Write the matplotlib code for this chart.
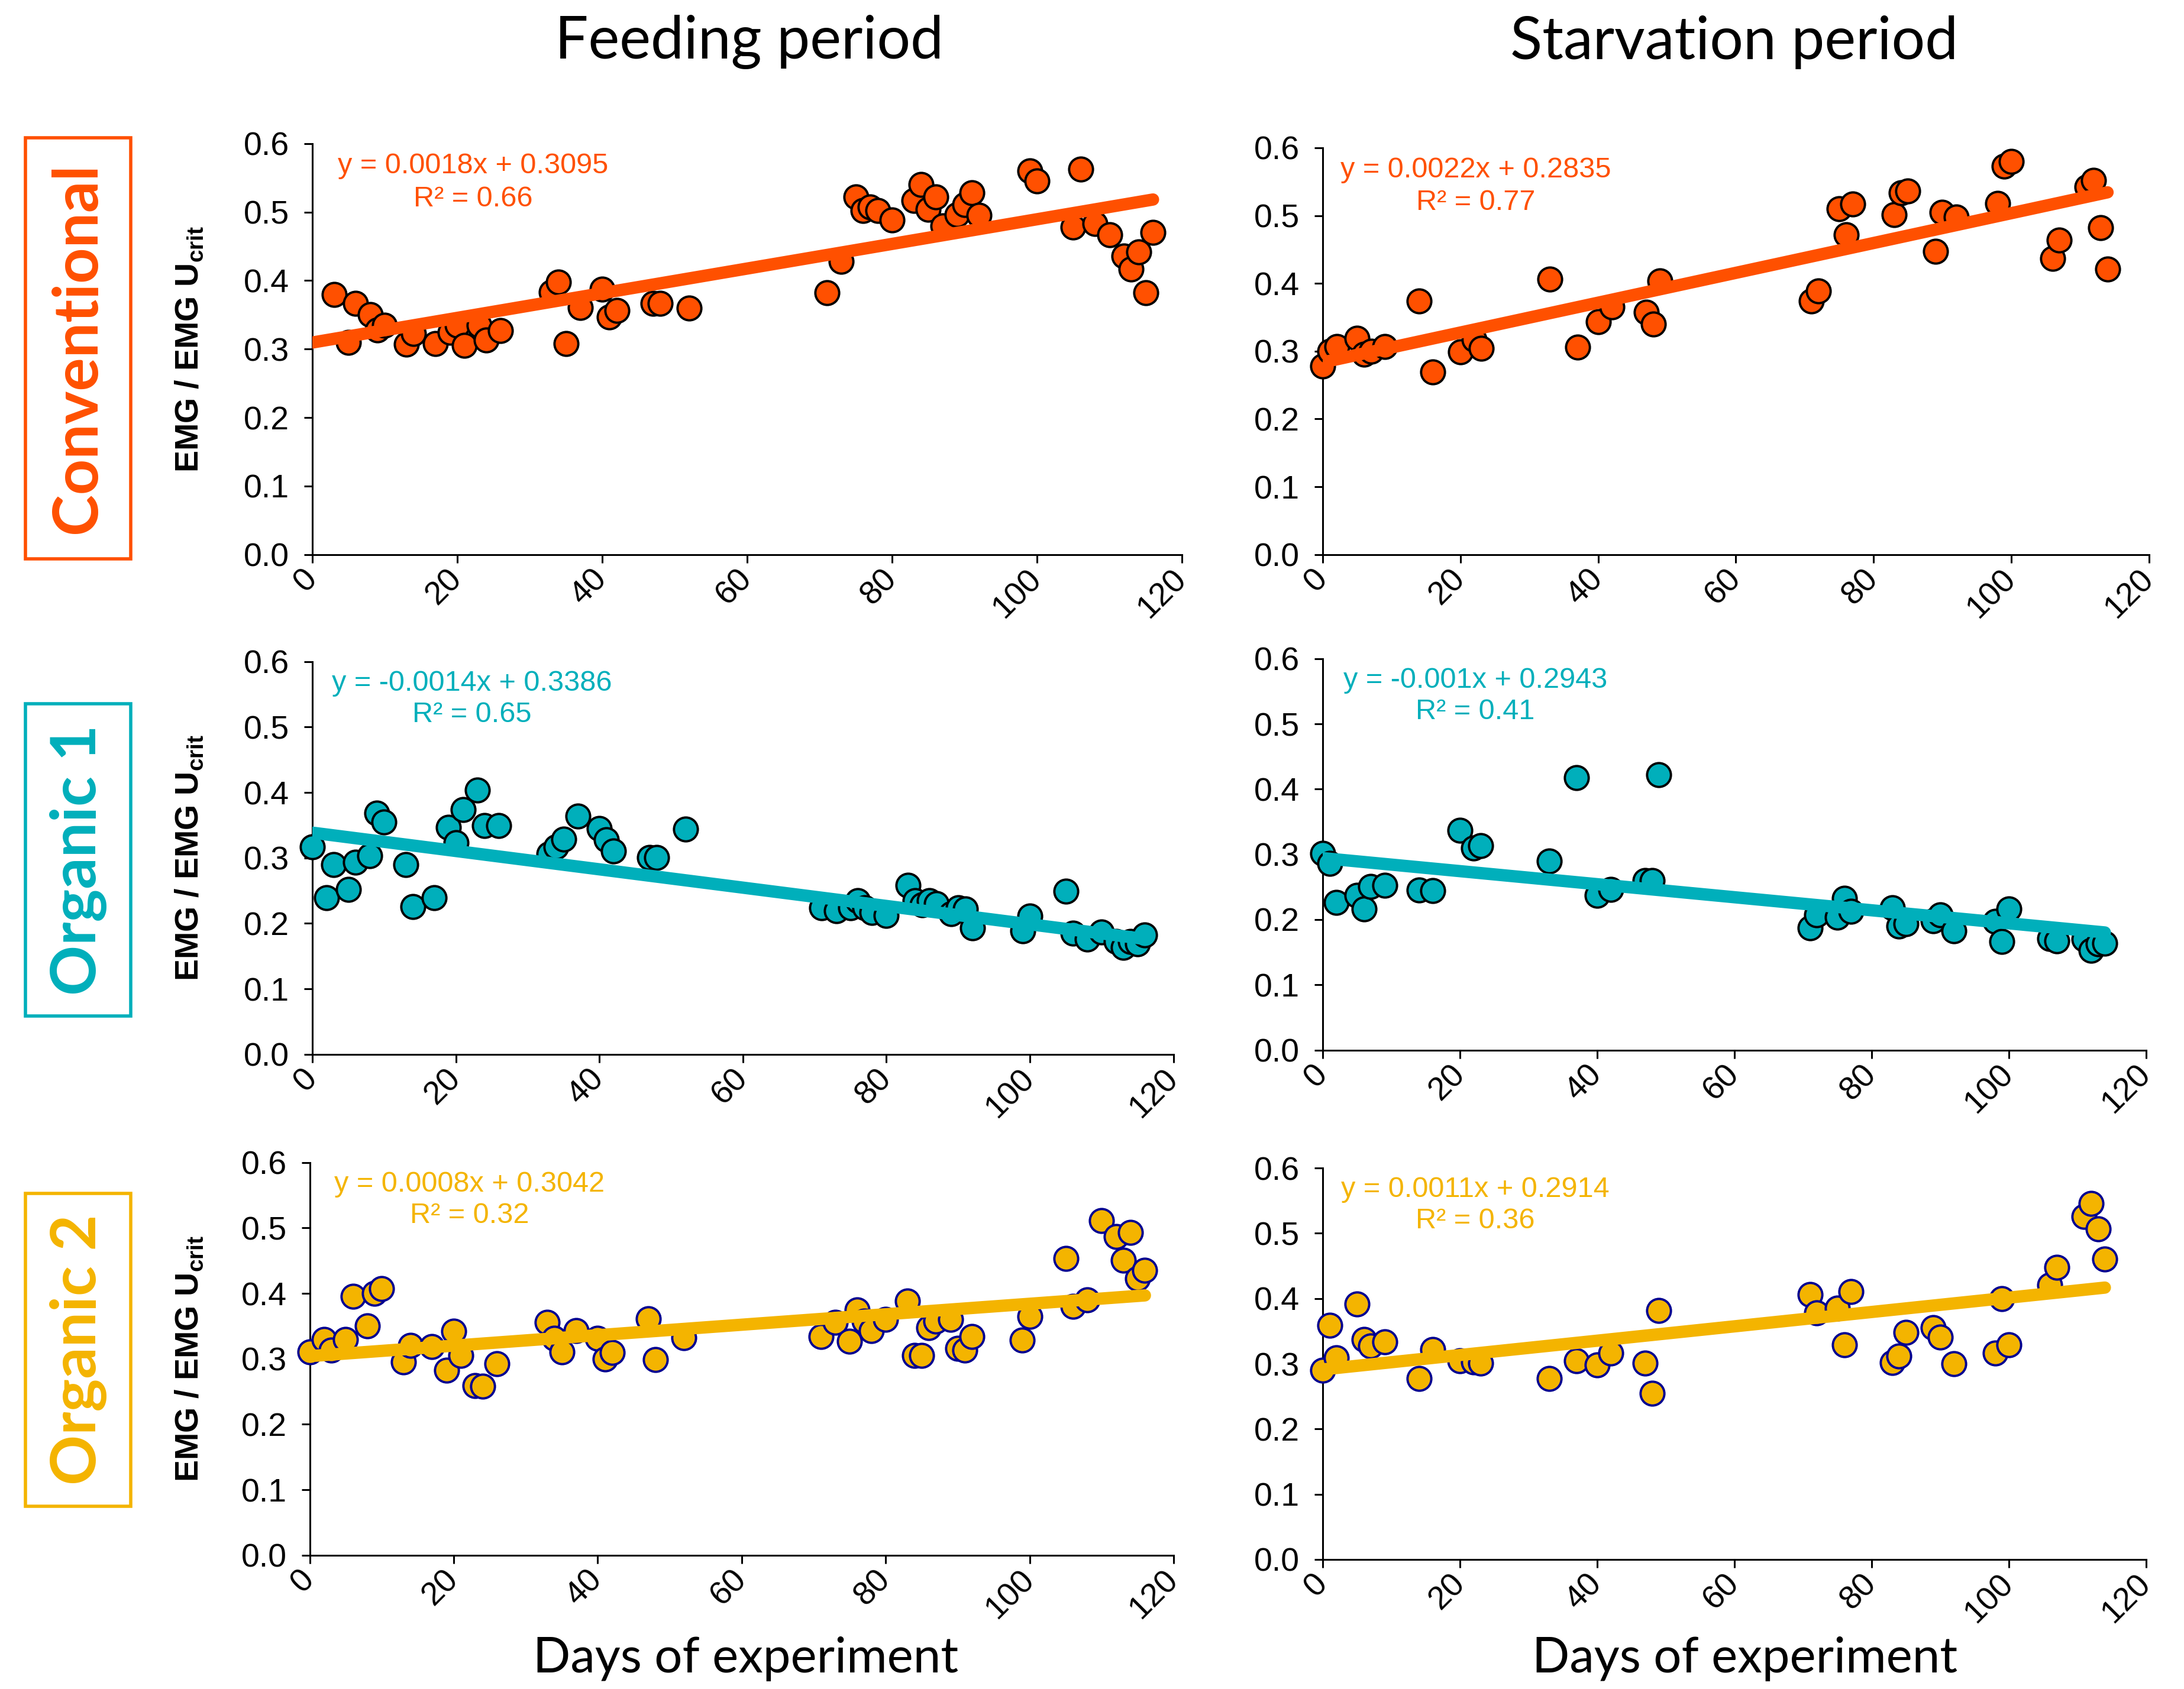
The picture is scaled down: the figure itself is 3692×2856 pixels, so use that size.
import matplotlib
matplotlib.use("Agg")
import matplotlib.pyplot as plt
from matplotlib.patches import Rectangle
import numpy as np

plt.rcParams['font.family'] = ['Liberation Sans', 'DejaVu Sans']
plt.rcParams['mathtext.fontset'] = 'custom'
plt.rcParams['mathtext.bf'] = 'Liberation Sans:bold'
plt.rcParams['mathtext.rm'] = 'Liberation Sans'

# ---------------- data ----------------
feed_x_a = [3,5,6,8,9,10,13,14,17,19,20,21,23,24,26,33,34,35,37,40,41,42,47,48,52,
            71,73,75,76,77,78,80,83,84,85,86,87,89,90,91,92,99,100,105,106,108,110,112,113,114,115,116]
conv_feed_y = [0.380,0.310,0.367,0.350,0.328,0.335,0.307,0.323,0.308,0.324,0.335,0.305,0.335,0.313,0.327,
               0.383,0.398,0.308,0.361,0.387,0.347,0.356,0.367,0.367,0.360,
               0.382,0.428,0.522,0.502,0.507,0.502,0.488,0.517,0.540,0.504,0.522,0.480,0.496,0.511,0.528,0.495,
               0.560,0.545,0.478,0.563,0.483,0.467,0.436,0.417,0.442,0.382,0.470]

feed_x_b = [0,2,3,5,6,8,9,10,13,14,17,19,20,21,23,24,26,33,34,35,37,40,41,42,47,48,52,
            71,73,75,76,77,78,80,83,84,85,86,87,89,90,91,92,99,100,105,106,108,110,112,113,114,115,116]
org1_feed_y = [0.317,0.239,0.290,0.252,0.293,0.303,0.368,0.355,0.290,0.226,0.239,0.347,0.323,0.374,0.404,0.349,0.349,
               0.306,0.317,0.329,0.364,0.345,0.328,0.311,0.301,0.301,0.344,
               0.224,0.219,0.224,0.235,0.224,0.217,0.212,0.258,0.235,0.228,0.235,0.230,0.215,0.224,0.222,0.193,
               0.189,0.211,0.249,0.185,0.176,0.187,0.172,0.163,0.172,0.169,0.182]
org2_feed_y = [0.311,0.330,0.313,0.330,0.396,0.350,0.400,0.407,0.295,0.321,0.319,0.283,0.342,0.305,0.259,0.258,0.293,
               0.356,0.331,0.311,0.343,0.331,0.300,0.310,0.361,0.299,0.332,
               0.334,0.356,0.327,0.375,0.358,0.343,0.360,0.388,0.305,0.305,0.348,0.358,0.360,0.316,0.313,0.334,
               0.329,0.365,0.453,0.380,0.390,0.511,0.487,0.451,0.493,0.423,0.435]

starv_x = [0,1,2,5,6,7,9,14,16,20,22,23,33,37,40,42,47,48,49,71,72,75,76,77,83,84,85,89,90,92,
           98,99,100,106,107,111,112,113,114]
conv_starv_y = [0.278,0.300,0.307,0.319,0.295,0.300,0.307,0.374,0.269,0.299,0.317,0.304,0.406,0.306,0.343,0.365,
                0.357,0.340,0.404,0.374,0.389,0.510,0.472,0.517,0.501,0.534,0.536,0.447,0.505,0.498,
                0.518,0.573,0.580,0.437,0.464,0.542,0.552,0.482,0.421]
org1_starv_y = [0.302,0.286,0.226,0.237,0.216,0.251,0.253,0.245,0.244,0.337,0.310,0.313,0.290,0.418,0.237,0.246,
                0.260,0.260,0.422,0.187,0.207,0.204,0.233,0.213,0.218,0.190,0.194,0.198,0.207,0.183,
                0.197,0.166,0.216,0.171,0.167,0.170,0.153,0.163,0.164]
org2_starv_y = [0.290,0.359,0.309,0.392,0.337,0.327,0.334,0.277,0.322,0.305,0.303,0.301,0.277,0.305,0.298,0.316,
                0.301,0.255,0.382,0.406,0.378,0.385,0.329,0.411,0.302,0.312,0.348,0.355,0.341,0.300,
                0.316,0.400,0.329,0.421,0.448,0.526,0.546,0.507,0.461]

slopes = [0.0018, 0.0022, -0.0014, -0.001, 0.0008, 0.0011]
intercepts = [0.3095, 0.2835, 0.3386, 0.2943, 0.3042, 0.2914]
r2_labels = ["0.66", "0.77", "0.65", "0.41", "0.32", "0.36"]
eq_labels = ["y = 0.0018x + 0.3095", "y = 0.0022x + 0.2835",
             "y = -0.0014x + 0.3386", "y = -0.001x + 0.2943",
             "y = 0.0008x + 0.3042", "y = 0.0011x + 0.2914"]
row_names = ["Conventional", "Organic 1", "Organic 2"]
col_titles = ["Feeding period", "Starvation period"]
yticks = [0.0, 0.1, 0.2, 0.3, 0.4, 0.5, 0.6]
xticks = [0, 20, 40, 60, 80, 100, 120]

panels_x = [feed_x_a, starv_x, feed_x_b, starv_x, feed_x_b, starv_x]
panels_y = [conv_feed_y, conv_starv_y, org1_feed_y, org1_starv_y, org2_feed_y, org2_starv_y]

row_colors = ['#FF5000', '#00AFBB', '#F4B400']
edge_colors = ['black', 'black', '#000090']

# ---------------- layout ----------------
fig = plt.figure(figsize=(36.92, 28.56), dpi=100)

axes_pos = [
    [0.1430, 0.6717, 0.3982, 0.2433],
    [0.6057, 0.6717, 0.3782, 0.2408],
    [0.1430, 0.3758, 0.3943, 0.2325],
    [0.6057, 0.3783, 0.3769, 0.2317],
    [0.1418, 0.0792, 0.3956, 0.2325],
    [0.6057, 0.0767, 0.3769, 0.2317],
]

tick_fs = 40
eq_fs = 35

for i in range(6):
    r = i // 2
    ax = fig.add_axes(axes_pos[i])
    col = row_colors[r]
    xs = np.array(panels_x[i], dtype=float)
    ys = np.array(panels_y[i], dtype=float)
    ax.scatter(xs, ys, s=29**2, facecolor=col, edgecolor=edge_colors[r],
               linewidths=2.8, zorder=3, clip_on=False)
    xl = np.array([0.0, xs.max()])
    ax.plot(xl, slopes[i] * xl + intercepts[i], color=col, lw=15,
            solid_capstyle='round', zorder=4)
    ax.set_xlim(0, 120)
    ax.set_ylim(0, 0.6)
    for s in ['top', 'right']:
        ax.spines[s].set_visible(False)
    for s in ['left', 'bottom']:
        ax.spines[s].set_linewidth(2.2)
    ax.set_yticks(yticks)
    ax.set_yticklabels([f"{v:.1f}" for v in yticks], fontsize=tick_fs)
    ax.set_xticks(xticks)
    ax.set_xticklabels([str(v) for v in xticks], fontsize=tick_fs, rotation=45,
                       ha='right', va='center', rotation_mode='anchor')
    ax.tick_params(axis='both', direction='out', length=10, width=2.2)
    ax.tick_params(axis='x', pad=14)
    ax.tick_params(axis='y', pad=18)
    ax.text(0.185, 0.945, eq_labels[i], transform=ax.transAxes, color=col,
            fontsize=eq_fs, ha='center', va='center')
    ax.text(0.185, 0.865, "R² = " + r2_labels[i], transform=ax.transAxes, color=col,
            fontsize=eq_fs, ha='center', va='center')

    if i % 2 == 0:
        yc = axes_pos[i][1] + axes_pos[i][3] / 2
        fig.text(0.087, yc, r"EMG / EMG U$_{\mathbf{crit}}$", rotation=90,
                 fontsize=40, fontweight='bold', ha='center', va='center')

# column titles
title_font = ['Lato', 'DejaVu Sans']
fig.text(0.343, 0.975, col_titles[0], fontsize=72, family=title_font, ha='center', va='center')
fig.text(0.794, 0.975, col_titles[1], fontsize=72, family=title_font, ha='center', va='center')
fig.text(0.3415, 0.018, "Days of experiment", fontsize=60, family=title_font, ha='center', va='center')
fig.text(0.799, 0.018, "Days of experiment", fontsize=60, family=title_font, ha='center', va='center')

# row label boxes
boxes = [(0.9183, 0.6692), (0.5833, 0.3983), (0.2933, 0.1083)]
for r in range(3):
    top, bot = boxes[r]
    rect = Rectangle((0.0116, bot), 0.0599 - 0.0116, top - bot, transform=fig.transFigure,
                     fill=False, edgecolor=row_colors[r], linewidth=4)
    fig.add_artist(rect)
    fig.text(0.0358, (top + bot) / 2, row_names[r], rotation=90, color=row_colors[r],
             fontsize=76, fontweight='bold', family=title_font, ha='center', va='center')

fig.savefig("out.png", dpi=100)
